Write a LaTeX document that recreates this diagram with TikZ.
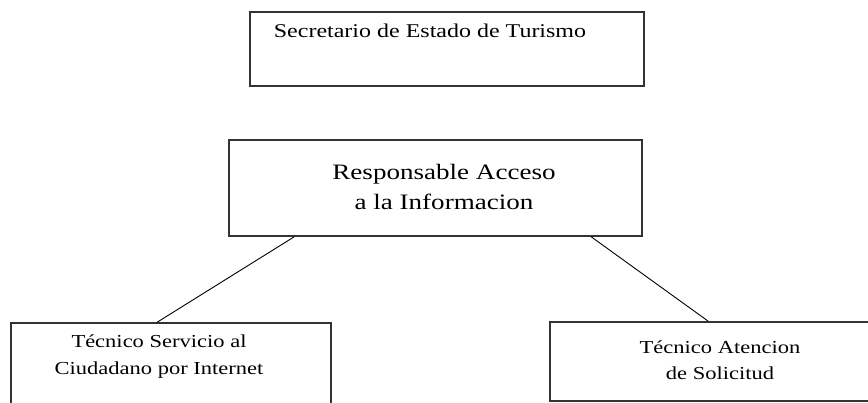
\documentclass[tikz,border=0pt]{standalone}
\usepackage{fontspec}
\setmainfont{Liberation Serif}[FakeStretch=1.23]
\begin{document}
\begin{tikzpicture}[x=1pt,y=-1pt,
  box/.style={draw=black!80,line width=1.6pt,rectangle,inner sep=0pt,fill=none},
  lbl/.style={inner sep=0pt,align=center,anchor=base},
  conn/.style={draw=black,line width=0.9pt}]
\useasboundingbox (0,0) rectangle (868,403);
\clip (0,0) rectangle (868,403);
\fill[white] (0,0) rectangle (868,403);
\node[box,minimum width=394pt,minimum height=74pt] (sec) at (447,49) {};
\node[box,minimum width=413pt,minimum height=96pt] (resp) at (435.5,188) {};
\node[box,minimum width=320pt,minimum height=90pt] (tsc) at (171,368) {};
\node[box,minimum width=340pt,minimum height=79pt] (tas) at (720,361.5) {};
\node[lbl,font=\fontsize{19.5}{26}\selectfont] (secT) at (430,38) {Secretario de Estado de Turismo};
\node[lbl,font=\fontsize{22}{30}\selectfont] (respT) at (444,210) {Responsable Acceso\\a la Informacion};
\node[lbl,font=\fontsize{18.3}{26}\selectfont] (tscT) at (159,374) {Técnico Servicio al\\Ciudadano por Internet};
\node[lbl,font=\fontsize{18.3}{26}\selectfont] (tasT) at (720,380) {Técnico Atencion\\de Solicitud};
\draw[conn] ([xshift=66pt]resp.south west) -- ([xshift=147pt]tsc.north west);
\draw[conn] ([xshift=363pt]resp.south west) -- ([xshift=159pt]tas.north west);
\end{tikzpicture}
\end{document}
